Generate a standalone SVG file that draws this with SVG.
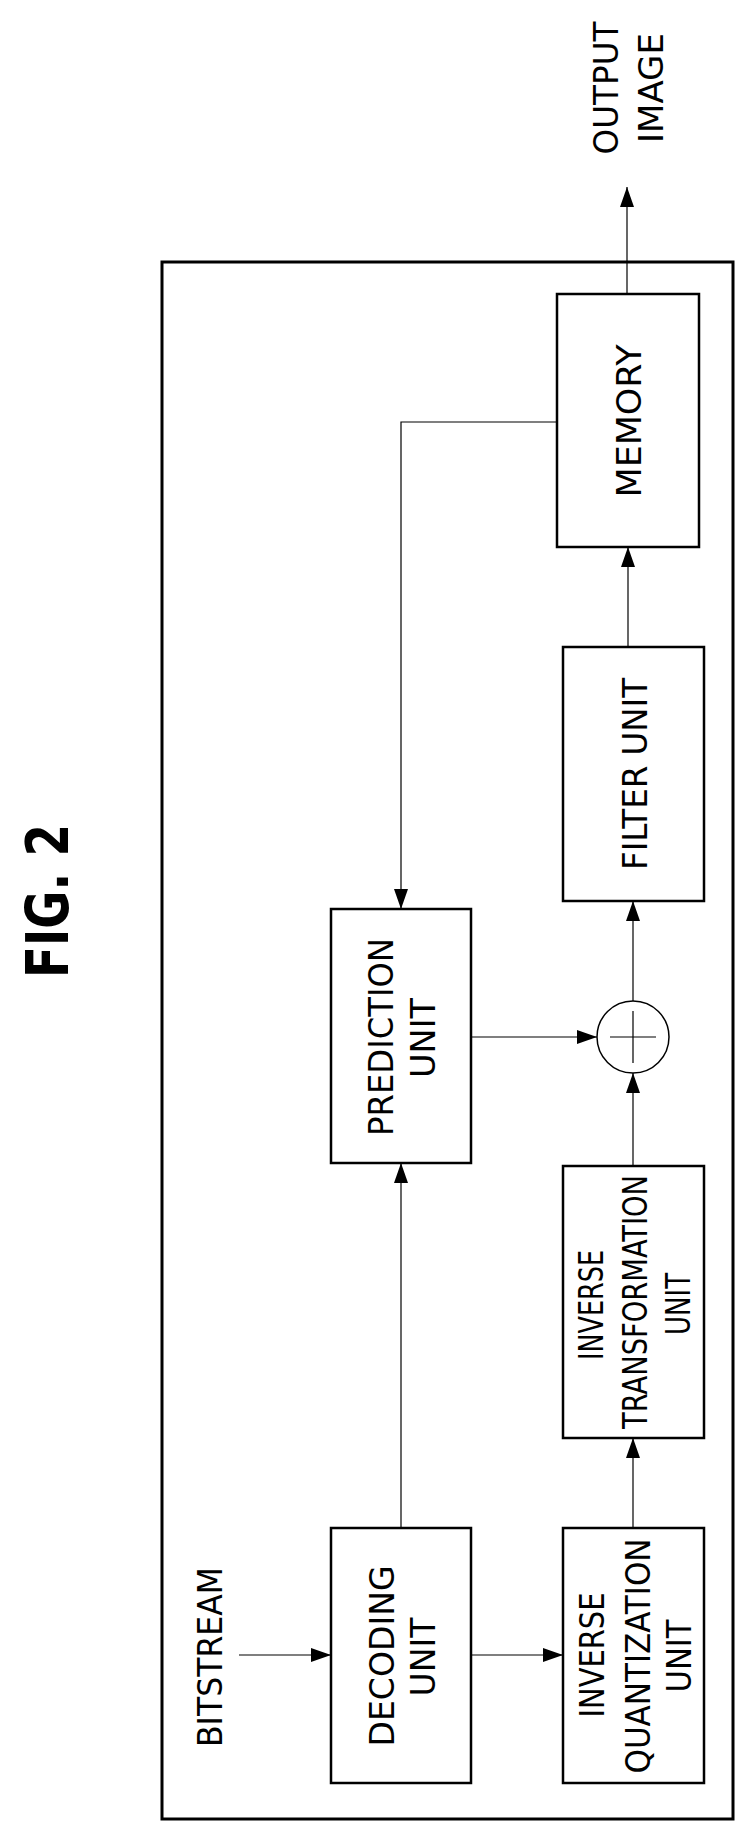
<svg xmlns="http://www.w3.org/2000/svg" width="755" height="1841" viewBox="0 0 755 1841">
<style>
.box{fill:#fff;stroke:#000;stroke-width:2.5}
.ln{fill:none;stroke:#000;stroke-width:1.2}
.t{font-family:"DejaVu Sans Condensed","DejaVu Sans",sans-serif;font-size:34px;text-anchor:middle;fill:#000}
.f{font-family:"DejaVu Sans","Liberation Sans",sans-serif;font-size:58px;font-weight:bold;text-anchor:middle;fill:#000}
</style>
<defs>
<marker id="ah" markerUnits="userSpaceOnUse" markerWidth="22" markerHeight="16" refX="20" refY="8" orient="auto">
<path d="M0,1 L20,8 L0,15 Z" fill="#000"/>
</marker>
</defs>
<rect width="755" height="1841" fill="#fff"/>
<text class="f" transform="translate(68,901) rotate(-90)" textLength="154" lengthAdjust="spacingAndGlyphs">FIG. 2</text>
<rect id="frame" x="162" y="262" width="571" height="1557" fill="none" stroke="#000" stroke-width="3"/>
<g id="bitstream"><text class="t" transform="translate(222,1657) rotate(-90)" textLength="180" lengthAdjust="spacingAndGlyphs">BITSTREAM</text></g>
<g id="output"><text class="t" transform="translate(618,88) rotate(-90)" textLength="133" lengthAdjust="spacingAndGlyphs">OUTPUT</text>
<text class="t" transform="translate(663,88) rotate(-90)" textLength="110" lengthAdjust="spacingAndGlyphs">IMAGE</text></g>
<g id="decoding"><rect class="box" x="331" y="1528" width="140" height="255"/>
<text class="t" transform="translate(394,1656) rotate(-90)" textLength="181" lengthAdjust="spacingAndGlyphs">DECODING</text>
<text class="t" transform="translate(435,1657) rotate(-90)" textLength="79" lengthAdjust="spacingAndGlyphs">UNIT</text></g>
<g id="invquant"><rect class="box" x="563" y="1528" width="141" height="255"/>
<text class="t" transform="translate(604,1655) rotate(-90)" textLength="125" lengthAdjust="spacingAndGlyphs">INVERSE</text>
<text class="t" transform="translate(650,1656) rotate(-90)" textLength="235" lengthAdjust="spacingAndGlyphs">QUANTIZATION</text>
<text class="t" transform="translate(691,1656) rotate(-90)" textLength="73" lengthAdjust="spacingAndGlyphs">UNIT</text></g>
<g id="invtrans"><rect class="box" x="563" y="1166" width="141" height="272"/>
<text class="t" transform="translate(603,1305) rotate(-90)" textLength="110" lengthAdjust="spacingAndGlyphs">INVERSE</text>
<text class="t" transform="translate(647,1302) rotate(-90)" textLength="254" lengthAdjust="spacingAndGlyphs">TRANSFORMATION</text>
<text class="t" transform="translate(690,1304) rotate(-90)" textLength="62" lengthAdjust="spacingAndGlyphs">UNIT</text></g>
<g id="prediction"><rect class="box" x="331" y="909" width="140" height="254"/>
<text class="t" transform="translate(393,1037) rotate(-90)" textLength="198" lengthAdjust="spacingAndGlyphs">PREDICTION</text>
<text class="t" transform="translate(435,1038) rotate(-90)" textLength="80" lengthAdjust="spacingAndGlyphs">UNIT</text></g>
<g id="adder"><circle cx="633" cy="1037" r="36" fill="#fff" stroke="#000" stroke-width="1.5"/>
<path class="ln" d="M633,1011 V1063 M610,1037 H656"/></g>
<g id="filter"><rect class="box" x="563" y="647" width="141" height="254"/>
<text class="t" transform="translate(647,774) rotate(-90)" textLength="192" lengthAdjust="spacingAndGlyphs">FILTER UNIT</text></g>
<g id="memory"><rect class="box" x="557" y="294" width="142" height="253"/>
<text class="t" transform="translate(641,421) rotate(-90)" textLength="153" lengthAdjust="spacingAndGlyphs">MEMORY</text></g>
<g id="connectors">
<path class="ln" d="M239,1655 H331" marker-end="url(#ah)"/>
<path class="ln" d="M471,1655 H563" marker-end="url(#ah)"/>
<path class="ln" d="M633,1528 V1438" marker-end="url(#ah)"/>
<path class="ln" d="M633,1166 V1073" marker-end="url(#ah)"/>
<path class="ln" d="M471,1037 H597" marker-end="url(#ah)"/>
<path class="ln" d="M401,1528 V1163" marker-end="url(#ah)"/>
<path class="ln" d="M557,422 H401 V909" marker-end="url(#ah)"/>
<path class="ln" d="M633,1001 V901" marker-end="url(#ah)"/>
<path class="ln" d="M628,647 V547" marker-end="url(#ah)"/>
<path class="ln" d="M627,294 V187" marker-end="url(#ah)"/>
</g>
</svg>
